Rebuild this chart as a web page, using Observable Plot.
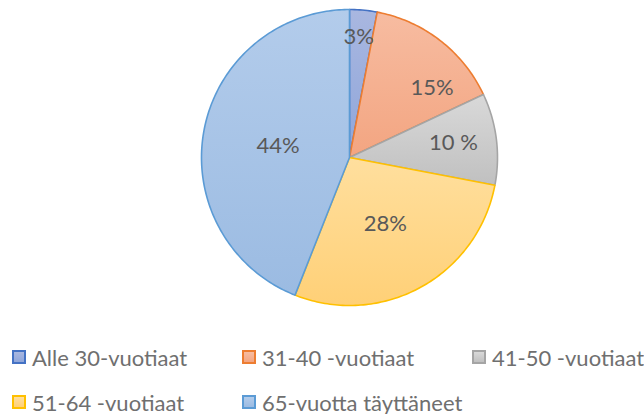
<!DOCTYPE html>
<html>
<head>
<meta charset="utf-8">
<script src="https://cdn.jsdelivr.net/npm/d3@7"></script>
<script src="https://cdn.jsdelivr.net/npm/@observablehq/plot@0.6"></script>
<style>
  html, body { margin: 0; padding: 0; background: #fff; }
  #wrap { position: relative; width: 644px; height: 414px; overflow: hidden; font-family: Lato, "Open Sans", sans-serif; }
  #chart svg { display: block; }
  .leg { position: absolute; display: flex; align-items: center; color: #6f6f6f; font-size: 22px; white-space: nowrap; height: 26px; }
  .leg .sw { width: 14px; height: 14px; margin-right: 6px; box-sizing: border-box; }
</style>
</head>
<body>
<div id="wrap">
  <div id="chart"></div>
  <div id="legend"></div>
</div>
<script>
// ---- data ----
const categories = ["Alle 30-vuotiaat", "31-40 -vuotiaat", "41-50 -vuotiaat", "51-64 -vuotiaat", "65-vuotta täyttäneet"];
const values = [3, 15, 10, 28, 44];
const labels = ["3%", "15%", "10 %", "28%", "44%"];

// ---- styles ----
const gradTop = ["#a9b7e0", "#f7bca1", "#d9d9d9", "#ffdf9e", "#b3cceb"];
const gradBottom = ["#8fa6da", "#f3a581", "#c0c0c0", "#ffd077", "#9bbbe2"];
const borders = ["#4472c4", "#ed7d31", "#a5a5a5", "#ffc000", "#5b9bd5"];
const labelRadius = [0.82, 0.73, 0.71, 0.51, 0.49];
const labelAngleShift = [-1, 12, -1, 0.5, -1.3]; // degrees
const legendRows = [[0, 1, 2], [3, 4]];
const legendX = [12, 242, 472];
const legendY = [344, 389];

// ---- geometry from data ----
const total = d3.sum(values);
let acc = 0;
const slices = values.map((v, i) => {
  const a0 = acc / total * 2 * Math.PI;
  acc += v;
  const a1 = acc / total * 2 * Math.PI;
  return { i, a0, a1 };
});
const pts = [];
for (const s of slices) {
  pts.push({ i: s.i, x: 0, y: 0 });
  const n = Math.max(2, Math.ceil((s.a1 - s.a0) / (Math.PI / 180)));
  for (let k = 0; k <= n; k++) {
    const a = s.a0 + (s.a1 - s.a0) * k / n;
    pts.push({ i: s.i, x: Math.sin(a), y: Math.cos(a) });
  }
  pts.push({ i: s.i, x: 0, y: 0 });
}
const labelData = slices.map(s => {
  const a = (s.a0 + s.a1) / 2 + labelAngleShift[s.i] * Math.PI / 180;
  return { t: labels[s.i], x: labelRadius[s.i] * Math.sin(a), y: labelRadius[s.i] * Math.cos(a) };
});

const W = 644, H = 330;
const plot = Plot.plot({
  width: W,
  height: H,
  marginLeft: 201,
  marginRight: W - 497,
  marginTop: 9,
  marginBottom: H - 305,
  x: { domain: [-1, 1], axis: null },
  y: { domain: [-1, 1], axis: null },
  color: { type: "identity" },
  marks: [
    Plot.line(pts, {
      x: "x", y: "y", z: "i",
      fill: d => `url(#pg${d.i})`,
      stroke: d => borders[d.i],
      strokeWidth: 1.6,
      strokeLinejoin: "round",
      curve: "linear"
    }),
    Plot.text(labelData, {
      x: "x", y: "y", text: "t",
      fill: "#595959",
      fontSize: 22,
      fontFamily: "Lato, 'Open Sans', sans-serif"
    })
  ]
});

// gradient defs
const ns = "http://www.w3.org/2000/svg";
const defs = document.createElementNS(ns, "defs");
gradTop.forEach((c, i) => {
  const g = document.createElementNS(ns, "linearGradient");
  g.setAttribute("id", `pg${i}`);
  g.setAttribute("x1", "0"); g.setAttribute("y1", "0");
  g.setAttribute("x2", "0"); g.setAttribute("y2", "1");
  const s0 = document.createElementNS(ns, "stop");
  s0.setAttribute("offset", "0"); s0.setAttribute("stop-color", c);
  const s1 = document.createElementNS(ns, "stop");
  s1.setAttribute("offset", "1"); s1.setAttribute("stop-color", gradBottom[i]);
  g.appendChild(s0); g.appendChild(s1);
  defs.appendChild(g);
});
plot.insertBefore(defs, plot.firstChild);
document.getElementById("chart").appendChild(plot);

// legend
const leg = document.getElementById("legend");
legendRows.forEach((row, r) => {
  row.forEach((ci, c) => {
    const item = document.createElement("div");
    item.className = "leg";
    item.style.left = legendX[c] + "px";
    item.style.top = legendY[r] + "px";
    const sw = document.createElement("span");
    sw.className = "sw";
    sw.style.background = `linear-gradient(${gradTop[ci]}, ${gradBottom[ci]})`;
    sw.style.border = `2px solid ${borders[ci]}`;
    const tx = document.createElement("span");
    tx.textContent = categories[ci];
    item.appendChild(sw); item.appendChild(tx);
    leg.appendChild(item);
  });
});
</script>
</body>
</html>
